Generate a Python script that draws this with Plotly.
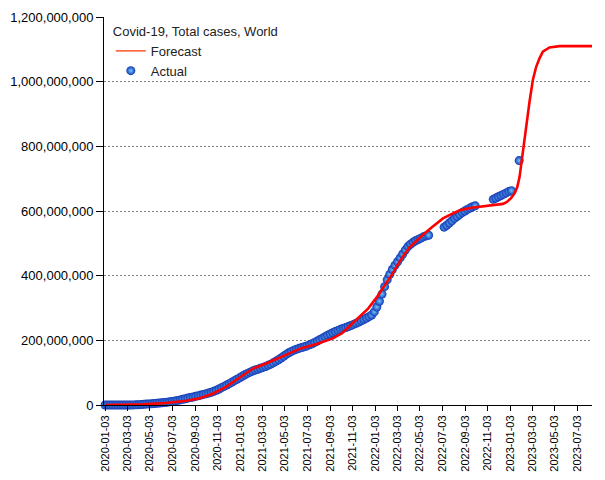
import plotly.graph_objects as go
import pandas as pd

# ---------------- data ----------------
# Actual total cases (millions), weekly from 2020-01-03; None = no report that week
actual_start = "2020-01-03"
actual_millions = [
    # 2020
    0, 0, 0, 0.001, 0.01, 0.03, 0.05, 0.08, 0.08, 0.1,
    0.14, 0.27, 0.6, 1.1, 1.7, 2.2, 2.8, 3.4, 4.0, 4.6,
    5.3, 6.1, 6.9, 7.8, 8.8, 9.9, 11.2, 12.6, 14.2, 15.8,
    17.5, 19.4, 21.3, 23.1, 24.9, 26.8, 28.7, 30.7, 32.7, 34.5,
    36.8, 39.3, 42.2, 45.6, 49.5, 53.6, 57.6, 61.8, 66.0, 70.6,
    75.3, 79.6,
    # 2021
    83.9, 88.9, 93.6, 97.8, 101.6, 104.9, 107.9, 110.6, 113.3, 116.2,
    119.2, 122.6, 126.4, 130.4, 135.0, 140.0, 145.3, 150.9, 156.4, 161.5,
    165.7, 169.6, 172.6, 175.2, 177.5, 180.0, 182.7, 186.0, 189.6, 193.6,
    197.9, 202.3, 206.8, 211.3, 215.7, 219.7, 223.5, 227.2, 230.6, 233.9,
    236.9, 239.8, 242.8, 245.8, 249.2, 252.7, 256.5, 260.4, 264.6, 268.9,
    273.3, 278.4, 288.0,
    # 2022
    303, 321, 343, 366, 387, 404, 419, 432, 443, 455,
    467, 479, 490, 497, 503, 508, 512, 516, 520, 523,
    525, None, None, None, None, None, 550, 556, 563, 570,
    577, 583, 589, 595, 600, 605, 609, 613, 616, None,
    None, None, None, None, None, 636, 640, 644, 648, 652,
    656,
    # 2023
    660, 663, None, None, 756,
]

# Forecast total cases (millions)
forecast_dates = [
    "2020-01-03", "2020-03-03", "2020-04-15", "2020-06-15", "2020-08-10",
    "2020-09-15", "2020-10-20", "2020-11-25", "2021-01-01", "2021-02-05",
    "2021-03-15", "2021-04-20", "2021-05-20", "2021-06-15", "2021-07-28",
    "2021-09-10", "2021-10-05", "2021-10-26", "2021-11-22", "2021-12-15",
    "2022-01-06", "2022-01-20", "2022-02-05", "2022-02-19", "2022-03-05",
    "2022-03-20", "2022-04-06", "2022-04-25", "2022-05-15", "2022-06-05",
    "2022-06-20", "2022-07-05", "2022-07-25", "2022-08-19", "2022-09-20",
    "2022-10-15", "2022-11-17", "2022-12-14", "2022-12-25", "2023-01-05",
    "2023-01-15", "2023-01-22", "2023-01-28", "2023-01-31", "2023-02-06",
    "2023-02-15", "2023-02-24", "2023-03-05", "2023-03-14", "2023-03-23",
    "2023-04-01", "2023-04-19", "2023-05-16", "2023-08-12",
]
forecast_millions = [
    0, 0.3, 2, 6, 13,
    21, 35, 56, 86, 112,
    129, 146, 162, 175, 189,
    206, 222, 245, 273, 299,
    332, 355, 382, 407, 435,
    462, 488, 510, 530, 550,
    564, 577, 589, 602, 610,
    614, 619, 622, 628, 640,
    655, 675, 705, 732, 794,
    866, 938, 1005, 1046, 1072,
    1093, 1106, 1110, 1110,
]

legend_title = "Covid-19, Total cases, World"
series_names = ["Forecast", "Actual"]

# ---------------- figure ----------------
actual_dates = pd.date_range(actual_start, periods=len(actual_millions), freq="7D")
actual_vals = [None if v is None else v * 1e6 for v in actual_millions]
forecast_vals = [v * 1e6 for v in forecast_millions]

fig = go.Figure()

marker_style = dict(
    size=9,
    color="#1236b4",
    gradient=dict(type="radial", color="#6ccaff"),
    line=dict(width=0),
)

fig.add_trace(go.Scatter(
    x=actual_dates, y=actual_vals, mode="markers", name=series_names[1],
    marker=marker_style, cliponaxis=False, legendrank=2,
))
fig.add_trace(go.Scatter(
    x=forecast_dates, y=forecast_vals, mode="lines", name=series_names[0],
    line=dict(color="#ff0000", width=2.6), showlegend=False, cliponaxis=False,
))
# legend entry for the forecast (thin sample line as in the original)
fig.add_trace(go.Scatter(
    x=[None], y=[None], mode="lines", name=series_names[0],
    line=dict(color="#ff3300", width=1.2), legendrank=1,
))

font_family = "Liberation Sans, Arial, sans-serif"

# the page body adds an 8px offset, so the figure is 8px smaller on each side
fig.update_layout(
    width=597, height=472, autosize=False,
    margin=dict(l=96, r=13, t=9, b=75, pad=0),
    paper_bgcolor="white", plot_bgcolor="white",
    font=dict(family=font_family, size=13, color="#000000"),
    showlegend=True,
    legend=dict(
        x=0.014, y=0.995, xanchor="left", yanchor="top",
        bgcolor="rgba(0,0,0,0)", borderwidth=0,
        title=dict(text=legend_title, font=dict(size=13, color="#222222")),
        font=dict(size=13, color="#222222"),
        tracegroupgap=0,
    ),
    xaxis=dict(
        type="date", automargin=False,
        range=["2019-12-31", "2023-08-12"],
        tick0="2020-01-03", dtick="M2", tickformat="%Y-%m-%d",
        tickangle=-90, ticks="outside", ticklen=5, tickcolor="#000000",
        tickfont=dict(size=11, color="#000000"),
        showline=True, linecolor="#000000", linewidth=1,
        showgrid=False, zeroline=False,
    ),
    yaxis=dict(
        automargin=False,
        range=[0, 1.2e9], dtick=2e8, tick0=0, tickformat=",d",
        ticks="outside", ticklen=7, tickcolor="#000000",
        tickfont=dict(size=13, color="#000000"),
        showline=True, linecolor="#000000", linewidth=1,
        showgrid=True, gridcolor="#808080", gridwidth=1, griddash="2px,2px",
        zeroline=False,
    ),
)

fig.write_html("out.html")
